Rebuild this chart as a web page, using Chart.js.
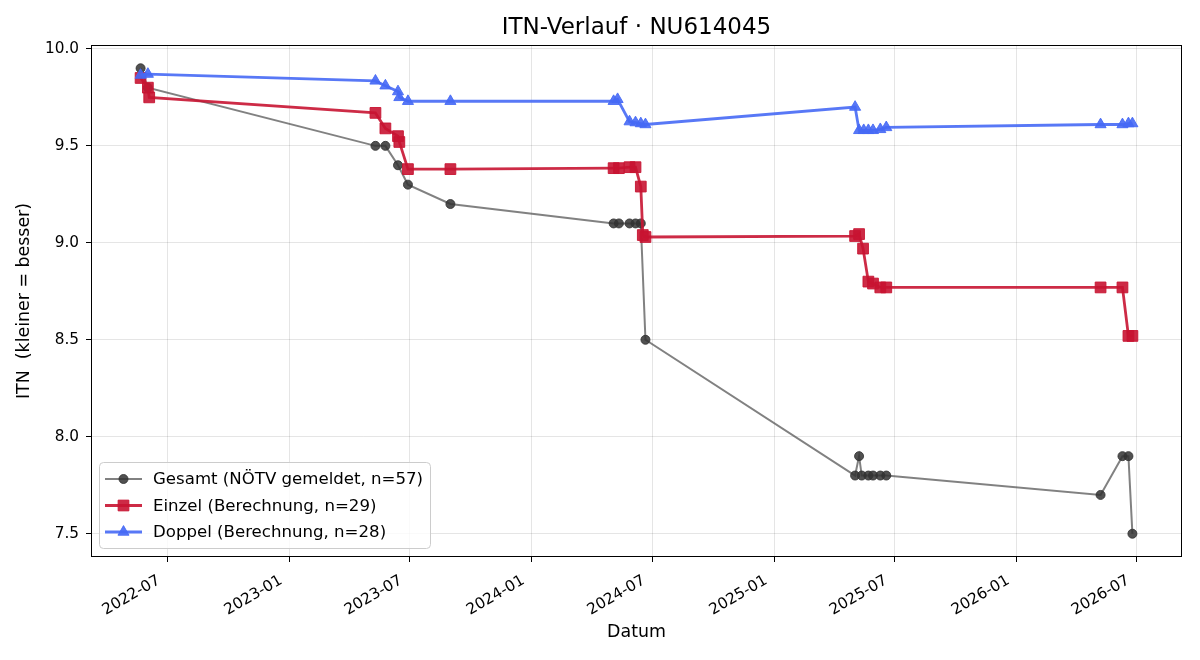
<!DOCTYPE html>
<html>
<head>
<meta charset="utf-8">
<script src="https://cdn.jsdelivr.net/npm/chart.js@4.4.0/dist/chart.umd.min.js"></script>
<style>
    html, body { margin: 0; padding: 0; background: #fff; }
    #wrap { width: 1200px; height: 660px; }
</style>
</head>
<body>
<div id="wrap"><canvas id="itnChart" width="1200" height="660"></canvas></div>
<script>
// ITN history values

const gesamtDates = ['2022-05-22', '2022-06-02', '2023-05-11', '2023-05-26', '2023-06-14', '2023-06-29',
    '2023-09-01', '2024-05-04', '2024-05-12', '2024-05-28', '2024-06-06', '2024-06-14', '2024-06-21',
    '2025-05-03', '2025-05-09', '2025-05-13', '2025-05-23', '2025-05-30', '2025-06-10', '2025-06-19',
    '2026-05-08', '2026-06-10', '2026-06-19', '2026-06-25'];
const gesamtValues = [9.90, 9.80, 9.50, 9.50, 9.40, 9.30,
    9.20, 9.10, 9.10, 9.10, 9.10, 9.10, 8.50,
    7.80, 7.90, 7.80, 7.80, 7.80, 7.80, 7.80,
    7.70, 7.90, 7.90, 7.50];

const einzelDates = ['2022-05-22', '2022-06-02', '2022-06-04', '2023-05-11', '2023-05-26', '2023-06-14',
    '2023-06-16', '2023-06-29', '2023-09-01', '2024-05-04', '2024-05-12', '2024-05-28', '2024-06-06',
    '2024-06-14', '2024-06-17', '2024-06-21', '2025-05-03', '2025-05-09', '2025-05-15', '2025-05-23',
    '2025-05-30', '2025-06-10', '2025-06-19', '2026-05-08', '2026-06-10', '2026-06-19', '2026-06-25'];
const einzelValues = [9.85, 9.80, 9.75, 9.67, 9.59, 9.55,
    9.52, 9.38, 9.38, 9.385, 9.385, 9.39, 9.39,
    9.29, 9.04, 9.03, 9.035, 9.045, 8.97, 8.80,
    8.79, 8.77, 8.77, 8.77, 8.77, 8.52, 8.52];

const doppelDates = ['2022-05-22', '2022-06-02', '2023-05-11', '2023-05-26', '2023-06-14', '2023-06-16',
    '2023-06-29', '2023-09-01', '2024-05-04', '2024-05-10', '2024-05-28', '2024-06-06', '2024-06-14',
    '2024-06-21', '2025-05-03', '2025-05-09', '2025-05-16', '2025-05-23', '2025-05-30', '2025-06-10',
    '2025-06-19', '2026-05-08', '2026-06-10', '2026-06-19', '2026-06-25'];
const doppelValues = [9.865, 9.87, 9.835, 9.81, 9.78, 9.75,
    9.73, 9.73, 9.73, 9.74, 9.625, 9.62, 9.615,
    9.61, 9.70, 9.58, 9.58, 9.58, 9.58, 9.585,
    9.595, 9.61, 9.61, 9.615, 9.615];

const xTickLabels = ['2022-07', '2023-01', '2023-07', '2024-01', '2024-07', '2025-01', '2025-07', '2026-01', '2026-07'];
const yTickValues = [7.5, 8.0, 8.5, 9.0, 9.5, 10.0];

const seriesLabels = ['Gesamt (NÖTV gemeldet, n=57)', 'Einzel (Berechnung, n=29)', 'Doppel (Berechnung, n=28)'];

const FONT = '"DejaVu Sans", Verdana, sans-serif';
const GREY_LINE = 'rgba(70, 70, 70, 0.68)';
const GREY_POINT = 'rgba(50, 50, 50, 0.85)';
const RED = 'rgba(200, 20, 50, 0.9)';
const BLUE = 'rgba(70, 105, 245, 0.9)';

function toDay(s) {
    const day = s.length > 7 ? +s.slice(8, 10) : 1;
    return Date.UTC(+s.slice(0, 4), +s.slice(5, 7) - 1, day) / 86400000;
}

function toPoints(dates, values) {
    return dates.map((d, i) => ({ x: toDay(d), y: values[i] }));
}

const xTickValues = xTickLabels.map(toDay);

// 5% margins like the matplotlib default
const allDays = gesamtDates.concat(einzelDates, doppelDates).map(toDay);
const dMin = Math.min(...allDays), dMax = Math.max(...allDays);
const xPad = (dMax - dMin) * 0.05;
const allVals = gesamtValues.concat(einzelValues, doppelValues);
const vMin = Math.min(...allVals), vMax = Math.max(...allVals);
const yPad = (vMax - vMin) * 0.05;

// Frame, title, rotated date labels and the in-plot legend
const framePlugin = {
    id: 'frame',
    afterDraw(chart) {
        const { ctx, chartArea: a } = chart;
        const xScale = chart.scales.x;
        ctx.save();
        ctx.strokeStyle = '#000';
        ctx.lineWidth = 1;
        ctx.strokeRect(Math.round(a.left) + 0.5, Math.round(a.top) + 0.5,
            Math.round(a.right - a.left) - 1, Math.round(a.bottom - a.top) - 1);

        ctx.fillStyle = '#000';
        ctx.font = '23px ' + FONT;
        ctx.textAlign = 'center';
        ctx.textBaseline = 'middle';
        ctx.fillText('ITN-Verlauf · NU614045', (a.left + a.right) / 2, 28);

        // date labels, rotated 30 degrees like autofmt_xdate
        ctx.font = '15.3px ' + FONT;
        ctx.textAlign = 'right';
        ctx.textBaseline = 'alphabetic';
        xTickValues.forEach((v, i) => {
            const px = xScale.getPixelForValue(v);
            ctx.save();
            ctx.translate(px - 6, a.bottom + 26);
            ctx.rotate(-Math.PI / 6);
            ctx.fillText(xTickLabels[i], 0, 0);
            ctx.restore();
        });

        // legend box
        const bx = 99, by = 462, bw = 331, bh = 86;
        ctx.beginPath();
        ctx.roundRect(bx + 0.5, by + 0.5, bw, bh, 4);
        ctx.fillStyle = 'rgba(255, 255, 255, 0.8)';
        ctx.fill();
        ctx.strokeStyle = '#cccccc';
        ctx.lineWidth = 1;
        ctx.stroke();

        const rows = [479, 505.5, 532];
        const styles = [
            { line: GREY_LINE, point: GREY_POINT, width: 2, shape: 'circle', r: 4.5 },
            { line: RED, point: RED, width: 2.8, shape: 'rect', r: 7.6 },
            { line: BLUE, point: BLUE, width: 2.8, shape: 'triangle', r: 6.4 }
        ];
        rows.forEach((y, i) => {
            const s = styles[i];
            ctx.beginPath();
            ctx.moveTo(105, y);
            ctx.lineTo(142, y);
            ctx.strokeStyle = s.line;
            ctx.lineWidth = s.width;
            ctx.stroke();
            ctx.fillStyle = s.point;
            ctx.strokeStyle = s.point;
            ctx.lineWidth = 1;
            Chart.helpers.drawPoint(ctx, { pointStyle: s.shape, radius: s.r, borderWidth: 1 }, 123.5, y);
            ctx.fillStyle = '#000';
            ctx.font = '16.6px ' + FONT;
            ctx.textAlign = 'left';
            ctx.textBaseline = 'middle';
            ctx.fillText(seriesLabels[i], 153, y + 1);
        });
        ctx.restore();
    }
};

document.addEventListener('DOMContentLoaded', function() {
    const ctx = document.getElementById('itnChart');
    new Chart(ctx, {
        type: 'line',
        data: {
            datasets: [{
                label: seriesLabels[0],
                data: toPoints(gesamtDates, gesamtValues),
                borderColor: GREY_LINE,
                backgroundColor: GREY_POINT,
                pointBackgroundColor: GREY_POINT,
                pointBorderColor: GREY_POINT,
                borderWidth: 2,
                pointStyle: 'circle',
                pointRadius: 4.5,
                pointBorderWidth: 1,
                tension: 0,
                order: 3
            }, {
                label: seriesLabels[1],
                data: toPoints(einzelDates, einzelValues),
                borderColor: RED,
                backgroundColor: RED,
                pointBackgroundColor: RED,
                pointBorderColor: RED,
                borderWidth: 2.8,
                pointStyle: 'rect',
                pointRadius: 7.6,
                pointBorderWidth: 1,
                tension: 0,
                order: 2
            }, {
                label: seriesLabels[2],
                data: toPoints(doppelDates, doppelValues),
                borderColor: BLUE,
                backgroundColor: BLUE,
                pointBackgroundColor: BLUE,
                pointBorderColor: BLUE,
                borderWidth: 2.8,
                pointStyle: 'triangle',
                pointRadius: 6.4,
                pointBorderWidth: 1,
                tension: 0,
                order: 1
            }]
        },
        options: {
            responsive: false,
            animation: false,
            devicePixelRatio: 1,
            layout: { padding: { top: 45, right: 18, left: 0, bottom: 0 } },
            plugins: {
                legend: { display: false },
                tooltip: { enabled: false },
                title: { display: false }
            },
            scales: {
                x: {
                    type: 'linear',
                    min: dMin - xPad,
                    max: dMax + xPad,
                    afterBuildTicks: function(scale) {
                        scale.ticks = xTickValues.map(v => ({ value: v }));
                    },
                    afterFit: function(scale) { scale.height = 103; },
                    ticks: { display: false },
                    grid: { color: 'rgba(0, 0, 0, 0.1)', tickColor: '#000', tickLength: 5 },
                    border: { display: false },
                    title: {
                        display: true,
                        text: 'Datum',
                        color: '#000',
                        font: { family: FONT, size: 17.4 },
                        padding: { top: 0, bottom: 17 }
                    }
                },
                y: {
                    min: vMin - yPad,
                    max: vMax + yPad,
                    afterBuildTicks: function(scale) {
                        scale.ticks = yTickValues.map(v => ({ value: v }));
                    },
                    afterFit: function(scale) { scale.width = 91; },
                    ticks: {
                        padding: 7,
                        color: '#000',
                        font: { family: FONT, size: 15.3 },
                        callback: function(value) { return value.toFixed(1); }
                    },
                    grid: { color: 'rgba(0, 0, 0, 0.1)', tickColor: '#000', tickLength: 5 },
                    border: { display: false },
                    title: {
                        display: true,
                        text: 'ITN  (kleiner = besser)',
                        color: '#000',
                        font: { family: FONT, size: 17.4 },
                        padding: { top: 14, bottom: 0 }
                    }
                }
            }
        },
        plugins: [framePlugin]
    });
});
</script>
</body>
</html>
